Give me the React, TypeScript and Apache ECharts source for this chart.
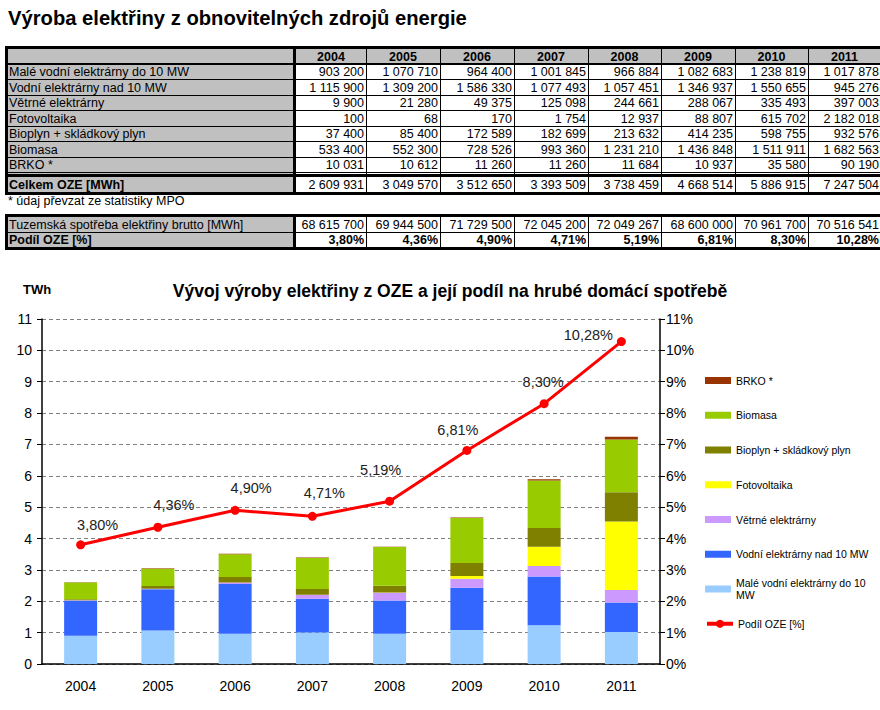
import React, { useEffect, useRef } from 'react';
import * as echarts from 'echarts';

// ---------- data ----------
const years = ['2004', '2005', '2006', '2007', '2008', '2009', '2010', '2011'];
const seriesNames = [
  'Malé vodní elektrárny do 10 MW',
  'Vodní elektrárny nad 10 MW',
  'Větrné elektrárny',
  'Fotovoltaika',
  'Bioplyn + skládkový plyn',
  'Biomasa',
  'BRKO *',
];
const maleVodni = [903200, 1070710, 964400, 1001845, 966884, 1082683, 1238819, 1017878];
const vodniNad = [1115900, 1309200, 1586330, 1077493, 1057451, 1346937, 1550655, 945276];
const vetrne = [9900, 21280, 49375, 125098, 244661, 288067, 335493, 397003];
const fotovoltaika = [100, 68, 170, 1754, 12937, 88807, 615702, 2182018];
const bioplyn = [37400, 85400, 172589, 182699, 213632, 414235, 598755, 932576];
const biomasa = [533400, 552300, 728526, 993360, 1231210, 1436848, 1511911, 1682563];
const brko = [10031, 10612, 11260, 11260, 11684, 10937, 35580, 90190];
const celkem = [2609931, 3049570, 3512650, 3393509, 3738459, 4668514, 5886915, 7247504];
const spotreba = [68615700, 69944500, 71729500, 72045200, 72049267, 68600000, 70961700, 70516541];
const podil = [3.8, 4.36, 4.9, 4.71, 5.19, 6.81, 8.3, 10.28];
const lineName = 'Podíl OZE [%]';
const totalLabel = 'Celkem OZE [MWh]';
const consumptionLabel = 'Tuzemská spotřeba elektřiny brutto [MWh]';
const footnote = '* údaj převzat ze statistiky MPO';
const pageTitle = 'Výroba elektřiny z obnovitelných zdrojů energie';
const chartTitle = 'Vývoj výroby elektřiny z OZE a její podíl na hrubé domácí spotřebě';
const unitLabel = 'TWh';
const Y_MIN = 0;
const Y_MAX = 11;
const Y_INTERVAL = 1;

// ---------- styles ----------
const FONT = '"Liberation Sans", Arial, Helvetica, sans-serif';
const GRAY = '#c0c0c0';
const COLORS = ['#99ccff', '#3366ff', '#cc99ff', '#ffff00', '#808000', '#99cc00', '#993300'];
const LABEL_OFFSETS = [[17, 0], [16, -2], [16, -2], [12, -3], [-9, -11], [-9, 0], [-1, -2], [-33, 13]];

const fmtNum = (n: number) => String(n).replace(/\B(?=(\d{3})+(?!\d))/g, ' ');
const fmtPct = (n: number) => n.toFixed(2).replace('.', ',') + '%';

function buildTable() {
  const els: any[] = [];
  const L = 5;
  const LABEL_R = 293;
  const DATA_L = 296;
  const R = 890;
  const colX = [296, 366, 440, 514, 588, 661, 735, 808, 881];
  const rect = (x: number, y: number, w: number, h: number, fill: string) =>
    els.push({ type: 'rect', shape: { x, y, width: w, height: h }, style: { fill }, silent: true });
  const text = (x: number, y: number, t: string, align: string, bold = false) =>
    els.push({
      type: 'text',
      x,
      y,
      silent: true,
      style: {
        text: t,
        fill: '#000',
        font: `${bold ? 'bold ' : ''}12.5px ${FONT}`,
        textAlign: align,
        textVerticalAlign: 'middle',
      },
    });

  // ---- table 1 ----
  rect(L, 49, R - L, 15, GRAY);
  rect(L, 64, LABEL_R - L, 128, GRAY);
  rect(DATA_L, 64, R - DATA_L, 128, '#ffffff');
  rect(L, 46, R - L, 3, '#000');
  rect(L, 63, R - L, 2, '#000');
  [79, 95, 110, 126, 141, 157, 172].forEach((b) => rect(L, b, R - L, 1, '#000'));
  rect(L, 174, R - L, 3, '#000');
  rect(L, 192, R - L, 3, '#000');
  rect(L, 46, 3, 149, '#000');
  rect(LABEL_R, 46, 3, 149, '#000');
  for (let i = 1; i < colX.length - 1; i++) rect(colX[i], 49, 1, 143, '#000');

  years.forEach((y, i) => text((colX[i] + colX[i + 1]) / 2, 56.5, y, 'center', true));
  const rows = [maleVodni, vodniNad, vetrne, fotovoltaika, bioplyn, biomasa, brko];
  const centers = [72, 87.5, 103, 118.5, 134, 149.5, 165];
  rows.forEach((vals, r) => {
    text(9, centers[r], seriesNames[r], 'left');
    vals.forEach((v, i) => text(colX[i + 1] - 2, centers[r], fmtNum(v), 'right'));
  });
  text(9, 184.5, totalLabel, 'left', true);
  celkem.forEach((v, i) => text(colX[i + 1] - 2, 184.5, fmtNum(v), 'right'));

  text(8, 201, footnote, 'left');

  // ---- table 2 ----
  rect(L, 217, LABEL_R - L, 30, GRAY);
  rect(DATA_L, 217, R - DATA_L, 30, '#ffffff');
  rect(L, 214, R - L, 3, '#000');
  rect(L, 232, R - L, 1, '#000');
  rect(L, 247, R - L, 3, '#000');
  rect(L, 214, 3, 36, '#000');
  rect(LABEL_R, 214, 3, 36, '#000');
  for (let i = 1; i < colX.length - 1; i++) rect(colX[i], 217, 1, 30, '#000');
  text(9, 224.5, consumptionLabel, 'left');
  spotreba.forEach((v, i) => text(colX[i + 1] - 2, 224.5, fmtNum(v), 'right'));
  text(9, 240, lineName, 'left', true);
  podil.forEach((v, i) => text(colX[i + 1] - 2, 240, fmtPct(v), 'right', true));

  // ---- titles ----
  els.push({
    type: 'text', x: 8, y: 18, silent: true,
    style: { text: pageTitle, fill: '#000', font: `bold 20.2px ${FONT}`, textAlign: 'left', textVerticalAlign: 'middle' },
  });
  els.push({
    type: 'text', x: 450, y: 291, silent: true,
    style: { text: chartTitle, fill: '#000', font: `bold 17.5px ${FONT}`, textAlign: 'center', textVerticalAlign: 'middle' },
  });
  els.push({
    type: 'text', x: 23, y: 289, silent: true,
    style: { text: unitLabel, fill: '#000', font: `bold 13px ${FONT}`, textAlign: 'left', textVerticalAlign: 'middle' },
  });
  return els;
}

function buildOption() {
  const stacks = [maleVodni, vodniNad, vetrne, fotovoltaika, bioplyn, biomasa, brko];
  const barSeries = stacks.map((vals, i) => ({
    name: seriesNames[i],
    type: 'bar',
    stack: 'oze',
    barWidth: 33,
    itemStyle: { color: COLORS[i] },
    data: vals.map((v) => v / 1e6),
  }));
  const lineSeries = {
    name: lineName,
    type: 'line',
    yAxisIndex: 1,
    z: 10,
    symbol: 'circle',
    symbolSize: 9,
    itemStyle: { color: '#ff0000' },
    lineStyle: { color: '#ff0000', width: 3 },
    label: {
      show: true,
      position: 'top',
      distance: 8,
      fontSize: 14.5,
      color: '#222',
      fontFamily: FONT,
      formatter: (p: any) => fmtPct(p.value),
    },
    data: podil.map((v, i) => ({ value: v, label: { offset: LABEL_OFFSETS[i] } })),
  };

  const legendNames = [...seriesNames].reverse().concat([lineName]);
  const legends = legendNames.map((name, i) => {
    const c = 380.5 + i * 34.75;
    const isMale = name === seriesNames[0];
    const isLine = name === lineName;
    return {
      data: [isLine ? { name } : { name, icon: 'rect' }],
      left: 705,
      top: isMale ? c - 18 : c - 6,
      orient: 'vertical',
      itemWidth: 26,
      itemHeight: isLine ? 10 : 7,
      itemGap: 0,
      padding: 0,
      selectedMode: false,
      formatter: isMale ? () => 'Malé vodní elektrárny do 10\nMW' : undefined,
      lineStyle: isLine ? { width: 4, color: '#ff0000' } : undefined,
      textStyle: {
        fontSize: 10.5,
        color: '#000',
        fontFamily: FONT,
        lineHeight: 12,
        padding: isMale ? [12, 0, 0, 0] : 0,
      },
    };
  });

  const axisText = { fontSize: 14, color: '#000', fontFamily: FONT };
  return {
    animation: false,
    textStyle: { fontFamily: FONT },
    graphic: buildTable(),
    grid: { left: 42, right: 220, top: 319, bottom: 46, containLabel: false },
    legend: legends,
    xAxis: {
      type: 'category',
      data: years,
      axisLine: { lineStyle: { color: '#000', width: 1.5 } },
      axisTick: { show: false },
      axisLabel: { ...axisText, margin: 15 },
    },
    yAxis: [
      {
        type: 'value',
        min: Y_MIN,
        max: Y_MAX,
        interval: Y_INTERVAL,
        axisLine: { show: true, lineStyle: { color: '#000', width: 1.5 } },
        axisTick: { show: true, length: 5, lineStyle: { color: '#000' } },
        axisLabel: { ...axisText, margin: 10 },
        splitLine: { show: true, lineStyle: { color: '#808080', type: [4, 3], width: 1 } },
      },
      {
        type: 'value',
        position: 'right',
        min: Y_MIN,
        max: Y_MAX,
        interval: Y_INTERVAL,
        axisLine: { show: true, lineStyle: { color: '#000', width: 1.5 } },
        axisTick: { show: true, length: 5, lineStyle: { color: '#000' } },
        axisLabel: { ...axisText, margin: 6, formatter: '{value}%' },
        splitLine: { show: false },
      },
    ],
    series: [...barSeries, lineSeries],
  };
}

export default function App() {
  const ref = useRef<HTMLDivElement>(null);
  useEffect(() => {
    if (!ref.current) return;
    const chart = echarts.init(ref.current, null, { renderer: 'svg' });
    chart.setOption(buildOption() as any);
    return () => chart.dispose();
  }, []);
  return (
    <div
      ref={ref}
      style={{ position: 'absolute', left: 0, top: 0, width: 880, height: 710, background: '#fff' }}
    />
  );
}
